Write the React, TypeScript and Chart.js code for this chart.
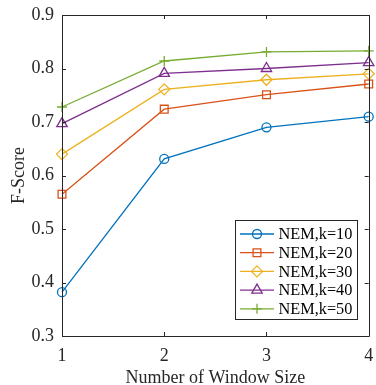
import React, { useEffect, useRef } from "react";
import { Chart, registerables } from "chart.js";

Chart.register(...registerables);

const windowSizes = [1, 2, 3, 4];
const seriesNames = ["NEM,k=10", "NEM,k=20", "NEM,k=30", "NEM,k=40", "NEM,k=50"];
const k10 = [0.382, 0.631, 0.69, 0.71];
const k20 = [0.565, 0.724, 0.751, 0.771];
const k30 = [0.64, 0.761, 0.779, 0.79];
const k40 = [0.697, 0.791, 0.8, 0.811];
const k50 = [0.728, 0.814, 0.831, 0.833];
const yTicks = [0.3, 0.4, 0.5, 0.6, 0.7, 0.8, 0.9];
const xTicks = [1, 2, 3, 4];

const colors = ["#0072BD", "#D95319", "#EDB120", "#7E2F8E", "#77AC30"];
const styles = ["circle", "rect", "rectRot", "triangle", "cross"];
const radii = [4.5, 5.5, 5.5, 6, 5];
const FONT = "'Liberation Serif', 'Times New Roman', serif";
const AX = "#262626";

function drawMarker(ctx: CanvasRenderingContext2D, style: string, r: number, x: number, y: number, color: string) {
  ctx.save();
  ctx.strokeStyle = color;
  ctx.lineWidth = 1.3;
  ctx.beginPath();
  if (style === "circle") {
    ctx.arc(x, y, r, 0, Math.PI * 2);
  } else if (style === "rect") {
    const s = r * Math.SQRT1_2;
    ctx.rect(x - s, y - s, 2 * s, 2 * s);
  } else if (style === "rectRot") {
    ctx.moveTo(x, y - r); ctx.lineTo(x + r, y); ctx.lineTo(x, y + r); ctx.lineTo(x - r, y); ctx.closePath();
  } else if (style === "triangle") {
    const rad = Math.PI / 180;
    ctx.moveTo(x, y - r);
    ctx.lineTo(x + Math.sin(120 * rad) * r, y - Math.cos(120 * rad) * r);
    ctx.lineTo(x + Math.sin(240 * rad) * r, y - Math.cos(240 * rad) * r);
    ctx.closePath();
  } else {
    ctx.moveTo(x - r, y); ctx.lineTo(x + r, y);
    ctx.moveTo(x, y - r); ctx.lineTo(x, y + r);
  }
  ctx.stroke();
  ctx.restore();
}

const boxPlugin = {
  id: "boxTicks",
  afterDatasetsDraw(chart: any) {
    const { ctx, chartArea: a, scales } = chart;
    const xs = scales.x, ys = scales.y;
    ctx.save();
    ctx.strokeStyle = AX;
    ctx.lineWidth = 1;
    ctx.beginPath();
    ctx.rect(Math.round(a.left) + 0.5, Math.round(a.top) + 0.5, Math.round(a.right - a.left), Math.round(a.bottom - a.top));
    ctx.stroke();
    const L = 4;
    ctx.beginPath();
    xTicks.forEach((v) => {
      const px = Math.round(xs.getPixelForValue(v)) + 0.5;
      ctx.moveTo(px, a.bottom); ctx.lineTo(px, a.bottom - L);
      ctx.moveTo(px, a.top); ctx.lineTo(px, a.top + L);
    });
    yTicks.forEach((v) => {
      const py = Math.round(ys.getPixelForValue(v)) + 0.5;
      ctx.moveTo(a.left, py); ctx.lineTo(a.left + L, py);
      ctx.moveTo(a.right, py); ctx.lineTo(a.right - L, py);
    });
    ctx.stroke();

    // legend
    const bx = 235.5, by = 220.5, bw = 122, bh = 99;
    ctx.fillStyle = "#ffffff";
    ctx.fillRect(bx, by, bw, bh);
    ctx.strokeStyle = AX;
    ctx.strokeRect(bx, by, bw, bh);
    ctx.font = "16.3px " + FONT;
    ctx.textBaseline = "middle";
    ctx.textAlign = "left";
    chart.data.datasets.forEach((ds: any, i: number) => {
      const cy = 234 + i * 18.7;
      ctx.strokeStyle = colors[i];
      ctx.lineWidth = 1.3;
      ctx.beginPath();
      ctx.moveTo(240, cy); ctx.lineTo(274, cy);
      ctx.stroke();
      drawMarker(ctx, styles[i], radii[i], 257, cy, colors[i]);
      ctx.fillStyle = "#000000";
      ctx.fillText(ds.label, 278.5, cy + 1);
    });
    ctx.restore();
  },
};

export default function App() {
  const ref = useRef<HTMLCanvasElement | null>(null);
  useEffect(() => {
    document.body.style.margin = "0";
    const all = [k10, k20, k30, k40, k50];
    const chart = new Chart(ref.current as HTMLCanvasElement, {
      type: "line",
      data: {
        datasets: all.map((vals, i) => ({
          label: seriesNames[i],
          data: vals.map((v, j) => ({ x: windowSizes[j], y: v })),
          borderColor: colors[i],
          backgroundColor: "rgba(0,0,0,0)",
          borderWidth: 1.3,
          pointStyle: styles[i] as any,
          pointRadius: radii[i],
          pointBorderWidth: 1.3,
          pointBackgroundColor: "rgba(0,0,0,0)",
          pointBorderColor: colors[i],
          tension: 0,
          clip: false as any,
        })),
      },
      options: {
        animation: false,
        responsive: false,
        maintainAspectRatio: false,
        layout: { padding: { top: 15, right: 4, left: 0, bottom: 0 } },
        plugins: { legend: { display: false }, tooltip: { enabled: false } },
        scales: {
          x: {
            type: "linear",
            min: 1,
            max: 4,
            afterBuildTicks: (s: any) => { s.ticks = xTicks.map((v) => ({ value: v })); },
            afterFit: (s: any) => { s.height = 49; s.paddingLeft = 0; s.paddingRight = 0; },
            border: { display: false },
            grid: { display: false, drawTicks: false },
            ticks: { color: AX, font: { family: FONT, size: 18 }, padding: 9, maxRotation: 0, callback: (v: any) => String(v) },
            title: { display: true, text: "Number of Window Size", color: AX, font: { family: FONT, size: 18 }, padding: { top: 0, bottom: -4 } },
          },
          y: {
            type: "linear",
            min: 0.3,
            max: 0.9,
            afterBuildTicks: (s: any) => { s.ticks = yTicks.map((v) => ({ value: v })); },
            afterFit: (s: any) => { s.width = 62; s.paddingTop = 0; s.paddingBottom = 0; },
            border: { display: false },
            grid: { display: false, drawTicks: false },
            ticks: { color: AX, font: { family: FONT, size: 18 }, padding: 8, callback: (v: any) => Number(v).toFixed(1) },
            title: { display: true, text: "F-Score", color: AX, font: { family: FONT, size: 18 }, padding: { top: 8, bottom: 0 } },
          },
        },
      },
      plugins: [boxPlugin],
    } as any);
    return () => chart.destroy();
  }, []);
  return (
    <div style={{ position: "absolute", left: 0, top: 0, width: 376, height: 385, background: "#fff" }}>
      <canvas ref={ref} width={376} height={385} style={{ width: 376, height: 385 }} />
    </div>
  );
}
